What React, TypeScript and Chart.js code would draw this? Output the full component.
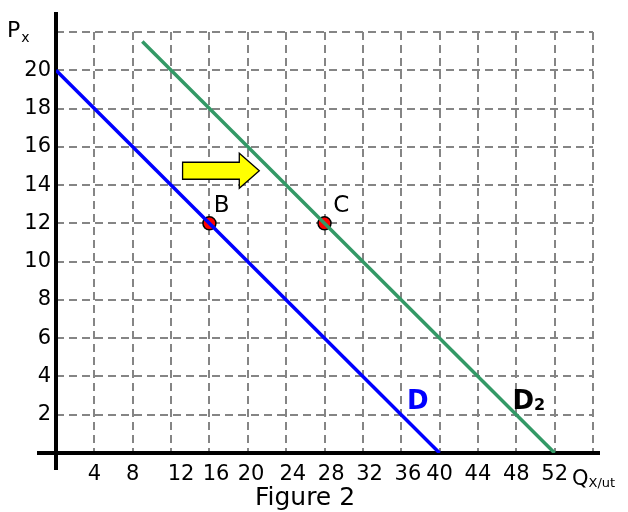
import React, { useEffect, useRef } from "react";
import { Chart, registerables } from "chart.js";

Chart.register(...registerables);

// Demand curve D (Q, P)
const dQ = [0, 40];
const dP = [20, 0];
// Shifted demand curve D2
const d2Q = [9, 52];
const d2P = [21.5, 0];
// Marked points
const pointQ = [16, 28];
const pointP = [12, 12];
const pointNames = ["B", "C"];
const pointNameQ = [16.45, 28.9];
const pointNameP = [12.6, 12.6];
// Shift arrow (from Q, to Q, at P)
const arrowQ = [13.2, 21.2];
const arrowP = 14.75;
// Curve labels
const curveNames = ["D", "D"];
const curveSubs = ["", "2"];
const curveNameQ = [36.6, 47.6];
const curveNameP = [2.3, 2.3];
// Axis ranges / ticks
const xMax = 56;
const yMax = 22;
const xStep = 4;
const yStep = 2;
// x tick labels as typeset in the figure (0..56 step 4)
const xTickLabels = ["", "4", "8", "   12", "  16", " 20", "  24", "  28", "  32", "  36", "40", "44", "48", "52", ""];
const yTitle = "P";
const yTitleSub = "x";
const xTitle = "Q";
const xTitleSub = "X/ut";
const caption = "Figure 2";

const FONT = "'DejaVu Sans', Verdana, sans-serif";

const overlay = {
  id: "overlay",
  beforeDatasetsDraw(chart: any) {
    const { ctx } = chart;
    const xs = chart.scales.x;
    const ys = chart.scales.y;
    const x0 = xs.getPixelForValue(0);
    const y0 = ys.getPixelForValue(0);
    ctx.save();
    ctx.strokeStyle = "#000";
    ctx.lineWidth = 4;
    ctx.beginPath();
    ctx.moveTo(x0, ys.getPixelForValue(yMax) - 20);
    ctx.lineTo(x0, y0 + 17);
    ctx.moveTo(x0 - 19, y0);
    ctx.lineTo(xs.getPixelForValue(xMax) + 7, y0);
    ctx.stroke();
    ctx.restore();
  },
  afterDatasetsDraw(chart: any) {
    const { ctx } = chart;
    const xs = chart.scales.x;
    const ys = chart.scales.y;
    ctx.save();
    // arrow
    const ax1 = xs.getPixelForValue(arrowQ[0]);
    const ax2 = xs.getPixelForValue(arrowQ[1]);
    const ay = ys.getPixelForValue(arrowP);
    const headLen = 20;
    const bodyH = 8.5;
    const headH = 17.5;
    ctx.beginPath();
    ctx.moveTo(ax1, ay - bodyH);
    ctx.lineTo(ax2 - headLen, ay - bodyH);
    ctx.lineTo(ax2 - headLen, ay - headH);
    ctx.lineTo(ax2, ay);
    ctx.lineTo(ax2 - headLen, ay + headH);
    ctx.lineTo(ax2 - headLen, ay + bodyH);
    ctx.lineTo(ax1, ay + bodyH);
    ctx.closePath();
    ctx.fillStyle = "#ffff00";
    ctx.fill();
    ctx.strokeStyle = "#000";
    ctx.lineWidth = 1.3;
    ctx.stroke();

    // point names
    ctx.fillStyle = "#000";
    ctx.textBaseline = "alphabetic";
    ctx.textAlign = "left";
    ctx.font = `23px ${FONT}`;
    pointNames.forEach((n, i) => {
      ctx.fillText(n, xs.getPixelForValue(pointNameQ[i]), ys.getPixelForValue(pointNameP[i]));
    });

    // curve names
    const colors = ["#0000ff", "#000000"];
    curveNames.forEach((n, i) => {
      const px = xs.getPixelForValue(curveNameQ[i]);
      const py = ys.getPixelForValue(curveNameP[i]);
      ctx.fillStyle = colors[i];
      ctx.font = `bold 26px ${FONT}`;
      ctx.fillText(n, px, py);
      if (curveSubs[i]) {
        const w = ctx.measureText(n).width;
        ctx.font = `bold 16px ${FONT}`;
        ctx.fillText(curveSubs[i], px + w, py + 1);
      }
    });

    // axis titles
    ctx.fillStyle = "#000";
    ctx.font = `22px ${FONT}`;
    ctx.fillText(yTitle, 7, 37);
    const pw = ctx.measureText(yTitle).width;
    ctx.font = `14px ${FONT}`;
    ctx.fillText(yTitleSub, 7 + pw + 1, 42);

    ctx.font = `21px ${FONT}`;
    ctx.fillText(xTitle, 572, 485);
    const qw = ctx.measureText(xTitle).width;
    ctx.font = `13px ${FONT}`;
    ctx.fillText(xTitleSub, 572 + qw, 487);

    ctx.font = `25px ${FONT}`;
    ctx.textAlign = "center";
    ctx.fillText(caption, 305, 505);
    ctx.restore();
  },
};

export default function App() {
  const ref = useRef<HTMLCanvasElement | null>(null);
  useEffect(() => {
    if (!ref.current) return;
    const chart = new Chart(ref.current, {
      type: "scatter",
      data: {
        datasets: [
          {
            data: dQ.map((q, i) => ({ x: q, y: dP[i] })),
            showLine: true,
            borderColor: "#0000ff",
            borderWidth: 3.5,
            pointRadius: 0,
          },
          {
            data: d2Q.map((q, i) => ({ x: q, y: d2P[i] })),
            showLine: true,
            borderColor: "#339966",
            borderWidth: 3.5,
            pointRadius: 0,
          },
          {
            data: pointQ.map((q, i) => ({ x: q, y: pointP[i] })),
            showLine: false,
            pointRadius: 6.5,
            pointBackgroundColor: "#ff0000",
            pointBorderColor: "#000",
            pointBorderWidth: 1.5,
          },
        ],
      },
      options: {
        animation: false,
        responsive: false,
        devicePixelRatio: 1,
        layout: { padding: { left: 8, top: 32, right: 35, bottom: 0 } },
        plugins: { legend: { display: false }, tooltip: { enabled: false } },
        scales: {
          x: {
            type: "linear",
            min: 0,
            max: xMax,
            afterFit: (s: any) => {
              s.height = 59;
            },
            grid: { color: "#858585", lineWidth: 2, drawTicks: false },
            border: { display: false, dash: [8, 5] },
            ticks: {
              stepSize: xStep,
              autoSkip: false,
              maxRotation: 0,
              padding: 9,
              color: "#000",
              font: { family: FONT, size: 21 },
              callback: (v: any) => xTickLabels[Math.round(v / xStep)] ?? "",
            },
          },
          y: {
            type: "linear",
            min: 0,
            max: yMax,
            afterFit: (s: any) => {
              s.width = 48;
            },
            grid: { color: "#858585", lineWidth: 2, drawTicks: false },
            border: { display: false, dash: [8, 5] },
            ticks: {
              stepSize: yStep,
              autoSkip: false,
              padding: 5,
              color: "#000",
              font: { family: FONT, size: 21 },
              callback: (v: any) => (v === 0 || v === yMax ? "" : String(v)),
            },
          },
        },
      },
      plugins: [overlay],
    } as any);
    return () => chart.destroy();
  }, []);
  return (
    <div style={{ position: "absolute", left: 0, top: 0, width: 628, height: 512, background: "#fff" }}>
      <canvas ref={ref} width={628} height={512} />
    </div>
  );
}
